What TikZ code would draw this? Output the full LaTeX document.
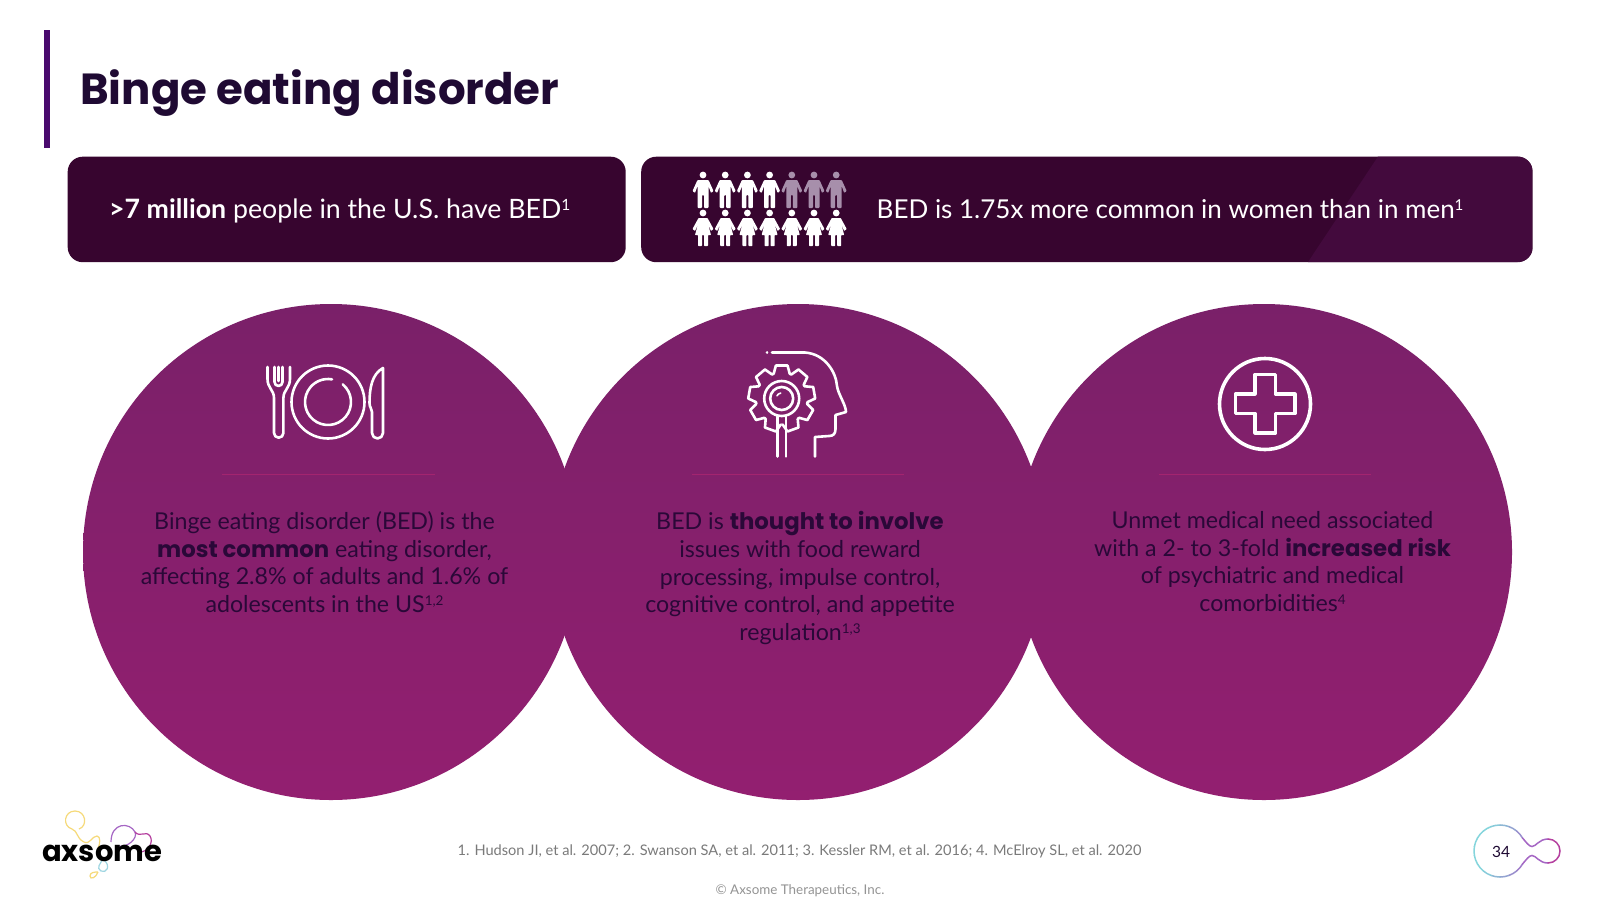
\documentclass[tikz,border=0pt]{standalone}
\usepackage{fontspec}
\setmainfont{Lato}
\newfontfamily\titlefont{Poppins}
\newfontfamily\heavyfont{Poppins}
\newfontfamily\semibold{Lato Bold}
\newcommand{\supnum}[1]{\raisebox{0.62ex}{\scalebox{0.58}{#1}}}
\newcommand{\heavy}[1]{{\heavyfont\bfseries\fontsize{22.8}{27.8}\selectfont #1}}
\usetikzlibrary{positioning}
\definecolor{barpurple}{HTML}{4A0A6E}
\definecolor{titleink}{HTML}{1F0A33}
\definecolor{boxdark}{HTML}{37052F}
\definecolor{boxlight}{HTML}{430A3D}
\definecolor{disctop}{HTML}{7A2069}
\definecolor{discbottom}{HTML}{931F70}
\definecolor{rulemagenta}{HTML}{A3246F}
\definecolor{bodyink}{HTML}{2A0838}
\definecolor{mengrey}{HTML}{A78FAB}
\definecolor{ringcyan}{HTML}{85D5DC}
\definecolor{ringpurple}{HTML}{A566C4}
\definecolor{ringmagenta}{HTML}{B5409F}
\definecolor{logoyellow}{HTML}{F6DA7A}
\definecolor{logoblue}{HTML}{9FD6E2}
\begin{document}
\begin{tikzpicture}[x=1pt,y=-1pt,
    banner/.style={rectangle, rounded corners=15pt, fill=boxdark, inner sep=0pt, anchor=north west},
    disc/.style={circle, inner sep=0pt, minimum size=496pt, top color=disctop, bottom color=discbottom},
    bodytext/.style={anchor=north, align=center, text=bodyink, inner sep=0pt, font=\fontsize{23.2}{27.8}\selectfont},
    bannertext/.style={anchor=west, text=white, inner sep=0pt, font=\fontsize{26}{30}\selectfont},
    iconline/.style={draw=white, line width=2.6pt, line join=round, line cap=round},
    man/.pic={
        \fill (0,0) circle (3.4);
        \fill[rounded corners=0.8pt] (-5.5,5) -- (5.5,5) -- (10.5,16) -- (8,18) -- (5.5,11) -- (5.5,33) -- (1,33) -- (1,20) -- (-1,20) -- (-1,33) -- (-5.5,33) -- (-5.5,11) -- (-8,18) -- (-10.5,16) -- cycle;
    },
    woman/.pic={
        \fill (0,0) circle (3.4);
        \fill[rounded corners=0.6pt] (-4.5,5) -- (4.5,5) -- (10.5,16) -- (8,18) -- (5,11) -- (8,22) -- (5,22) -- (5,33) -- (1,33) -- (1,22) -- (-1,22) -- (-1,33) -- (-5,33) -- (-5,22) -- (-8,22) -- (-5,11) -- (-8,18) -- (-10.5,16) -- cycle;
    }]
    \useasboundingbox (0,0) rectangle (1600,900);
    \fill[white] (0,0) rectangle (1600,900);

    % Title
    \fill[barpurple] (43.5,29.5) rectangle (49.5,148);
    \node[anchor=west, inner sep=0pt, text=titleink, font=\titlefont\bfseries\fontsize{43.5}{50}\selectfont] (title) at (80,93) {Binge eating disorder};

    % Banners
    \node[banner, minimum width=558pt, minimum height=105.5pt] (banner1) at (67.5,156.5) {};
    \node[banner, minimum width=891.5pt, minimum height=105.5pt] (banner2) at (641,156.5) {};
    \begin{scope}
        \clip[rounded corners=15pt] (641,156.5) rectangle (1532.5,262);
        \fill[boxlight] (1378,156.5) -- (1532.5,156.5) -- (1532.5,262) -- (1308,262) -- cycle;
    \end{scope}
    \node[bannertext, font=\fontsize{26.7}{30}\selectfont] (fact1) at (109,211) {{\semibold >7 million} people in the U.S. have BED\supnum{1}};
    \node[bannertext] (fact2) at (876.5,209) {BED is 1.75x more common in women than in men\supnum{1}};

    % People
    \foreach \px in {703,725.2,747.4,769.6} {
        \pic[white] at (\px,175) {man};
    }
    \foreach \px in {791.8,814,836.2} {
        \pic[mengrey] at (\px,175) {man};
    }
    \foreach \px in {703,725.2,747.4,769.6,791.8,814,836.2} {
        \pic[white] at (\px,213) {woman};
    }

    % Discs
    \node[disc] (disc1) at (331,552) {};
    \node[disc] (disc2) at (798,552) {};
    \node[disc] (disc3) at (1264,552) {};
    \draw[rulemagenta, line width=1.3pt] (222,474.5) -- (435,474.5);
    \draw[rulemagenta, line width=1.3pt] (692,474.5) -- (904,474.5);
    \draw[rulemagenta, line width=1.3pt] (1159,474.5) -- (1371,474.5);

    % Plate
    \draw[iconline] (328,402) circle (36.5);
    \draw[iconline] (328,402) ++(-50:23) arc (-50:280:23);
    \draw[iconline] (267.5,367) -- (267.5,379) .. controls (267.5,388) and (274,390) .. (274,398) -- (274,433) arc (180:0:4.7) -- (283.4,398) .. controls (283.4,390) and (290,388) .. (290,379) -- (290,367);
    \draw[iconline] (274.5,367) -- (274.5,382) arc (180:0:4) -- (282.5,367);
    \draw[iconline] (278.5,367) -- (278.5,381);
    \draw[iconline] (383,368) -- (383,433) arc (0:180:5.5) -- (372,412) .. controls (372,408) and (369.5,408) .. (369.5,403) .. controls (369.5,388) and (372,374) .. (383,368);

    % Head
    \draw[iconline] (767,352.5) -- (767.1,352.5);
    \draw[iconline] (772,352.5) -- (805,352.5) .. controls (825,354) and (836,372) .. (837,386) .. controls (838,394) and (846,405) .. (846,412) -- (835.5,415) -- (835.5,429) .. controls (835.5,434) and (833,436) .. (829,436) -- (815,437) -- (815,456.5);
    \begin{scope}[shift={(781.7,398.5)}]
        \draw[iconline] (0,0) circle (17.5);
        \draw[iconline] (0,0) circle (11.5);
        \draw[iconline, line width=1.6pt] (-150:5.5) arc (-150:-100:5.5);
        \foreach \ang in {110,150,...,430} {
            \draw[iconline] (\ang-18:26) -- (\ang-10:33.5) -- (\ang+10:33.5) -- (\ang+18:26);
        }
        \foreach \ang in {130,170,...,410} {
            \draw[iconline] (\ang-2:26) -- (\ang+2:26);
        }
    \end{scope}
    \draw[iconline] (777.5,416) -- (777.5,456.5);
    \draw[iconline] (786,416) -- (786,456.5);

    % Cross
    \draw[iconline, line width=3.6pt] (1265,404) circle (45.5);
    \draw[iconline, line width=3.2pt] (1255,374.5) -- (1275.5,374.5) -- (1275.5,394) -- (1295,394) -- (1295,413.5) -- (1275.5,413.5) -- (1275.5,433) -- (1255,433) -- (1255,413.5) -- (1235.5,413.5) -- (1235.5,394) -- (1255,394) -- cycle;

    % Texts
    \node[bodytext] (text1) at (324.5,511) {Binge eating disorder (BED) is the\\\heavy{most common} eating disorder,\\affecting 2.8\% of adults and 1.6\% of\\adolescents in the US\supnum{1,2}};
    \node[bodytext] (text2) at (800,511) {BED is \heavy{thought to involve}\\issues with food reward\\processing, impulse control,\\cognitive control, and appetite\\regulation\supnum{1,3}};
    \node[bodytext] (text3) at (1272.5,511) {Unmet medical need associated\\with a 2- to 3-fold \heavy{increased risk}\\of psychiatric and medical\\comorbidities\supnum{4}};

    % Logo
    \draw[logoyellow, line width=1.2pt] (79,829) .. controls (88,826) and (86,811) .. (75,811) .. controls (64,811) and (62,826) .. (72,829) .. controls (78,831) and (76,838) .. (84,842) .. controls (90,845) and (92,836) .. (97,836) .. controls (101,836) and (100,845) .. (98,848);
    \draw[ringpurple, line width=1.2pt] (111,842) .. controls (111,822) and (130,822) .. (135,832) .. controls (138,838) and (128,848) .. (118,846);
    \draw[ringmagenta, line width=1.2pt] (135,832) .. controls (140,838) and (146,830) .. (150,836) .. controls (154,842) and (148,852) .. (140,852);
    \draw[logoblue, line width=1.2pt] (103,859) .. controls (112,866) and (106,874) .. (101,871) .. controls (96,868) and (100,864) .. (103,859);
    \draw[logoyellow, line width=1.2pt] (98,872) .. controls (96,878) and (90,880) .. (90,876) .. controls (90,872) and (95,872) .. (98,872);
    \node[anchor=west, inner sep=0pt, text=black, font=\titlefont\bfseries\fontsize{29}{30}\selectfont] (logoword) at (42,853) {axsome};

    % Footer
    \node[inner sep=0pt, text=black!52, font=\fontsize{14.6}{18}\selectfont] (refs) at (799.5,851.5) {1. Hudson JI, et al. 2007; 2. Swanson SA, et al. 2011; 3. Kessler RM, et al. 2016; 4. McElroy SL, et al. 2020};
    \node[inner sep=0pt, text=black!42, font=\fontsize{13.4}{16}\selectfont] (copyright) at (800,891) {© Axsome Therapeutics, Inc.};

    % Page ring
    \foreach \ang in {-150,-130,...,130} {
        \pgfmathsetmacro{\mixval}{100-max(0,abs(\ang)-60)*0.9}
        \pgfmathsetmacro{\startang}{\ang+180}
        \draw[ringcyan!\mixval!ringpurple, line width=1.5pt, line cap=round] (1500,851) ++(\startang:26) arc (\startang:\startang+20:26);
    }
    \draw[ringpurple, line width=1.5pt, line cap=round] (1522.5,838) .. controls (1526,842) and (1529,846.5) .. (1532,846.5) .. controls (1536,846.5) and (1539,839) .. (1548,839);
    \draw[ringpurple, line width=1.5pt, line cap=round] (1522.5,864) .. controls (1526,860) and (1529,855.5) .. (1532,855.5) .. controls (1536,855.5) and (1539,863) .. (1548,863);
    \draw[ringmagenta, line width=1.5pt, line cap=round] (1548,839) arc (-90:90:12);
    \node[inner sep=0pt, text=titleink, font=\fontsize{15.5}{18}\selectfont] (pagenum) at (1501,851.5) {34};
\end{tikzpicture}
\end{document}
